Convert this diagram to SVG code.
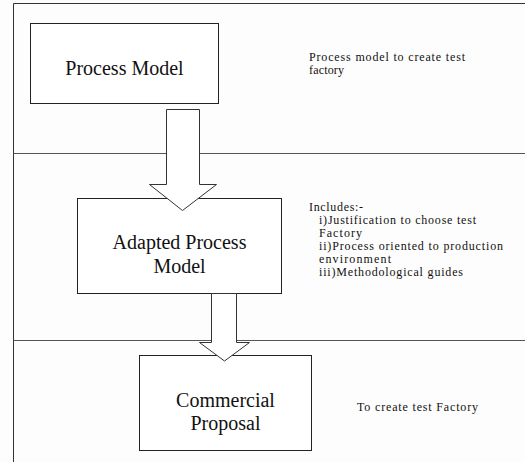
<svg xmlns="http://www.w3.org/2000/svg" width="525" height="462" viewBox="0 0 525 462">
<style>
.bg{fill:#fdfdfd}
.frame{stroke:#333;stroke-width:1;fill:none}
.sep{stroke:#555;stroke-width:1;fill:none}
.box{fill:#fff;stroke:#222;stroke-width:1}
.arrow{fill:#fff;stroke:#333;stroke-width:1;stroke-linejoin:miter}
text{font-family:'Liberation Serif',Tinos,'Times New Roman',Times,'DejaVu Serif',serif;fill:#111}
.title{font-size:20px;text-anchor:middle}
.note{font-size:12px}
</style>
<rect class="bg" x="0" y="0" width="525" height="462"/>
<g id="frame">
<path class="frame" d="M13.5,462 V3.5 H525"/>
<path class="sep" d="M13.5,153.5 H525"/>
<path class="sep" d="M13.5,340.5 H525"/>
</g>
<g id="node-process-model">
<rect class="box" x="30.5" y="23.5" width="188" height="80"/>
<text class="title" x="124.5" y="75">Process Model</text>
</g>
<g id="note-process-model">
<text class="note" x="309" y="61" textLength="156" lengthAdjust="spacing">Process model to create test</text>
<text class="note" x="309" y="74" textLength="35" lengthAdjust="spacing">factory</text>
</g>
<g id="node-adapted-process-model">
<rect class="box" x="77.5" y="198.5" width="204" height="95"/>
<text class="title" x="179.5" y="249">Adapted Process</text>
<text class="title" x="179.5" y="273">Model</text>
</g>
<g id="note-adapted-process-model">
<text class="note" x="309" y="211" textLength="54" lengthAdjust="spacing">Includes:-</text>
<text class="note" x="319" y="224" textLength="157" lengthAdjust="spacing">i)Justification to choose test</text>
<text class="note" x="319" y="237" textLength="43" lengthAdjust="spacing">Factory</text>
<text class="note" x="319" y="250" textLength="184" lengthAdjust="spacing">ii)Process oriented to production</text>
<text class="note" x="319" y="263" textLength="72" lengthAdjust="spacing">environment</text>
<text class="note" x="319" y="276" textLength="144" lengthAdjust="spacing">iii)Methodological guides</text>
</g>
<g id="node-commercial-proposal">
<rect class="box" x="139.5" y="355.5" width="172" height="95"/>
<text class="title" x="225.5" y="407">Commercial</text>
<text class="title" x="225.5" y="430">Proposal</text>
</g>
<g id="note-commercial-proposal">
<text class="note" x="357" y="411" textLength="121" lengthAdjust="spacing">To create test Factory</text>
</g>
<g id="connectors">
<polygon class="arrow" points="166.5,109.5 199.5,109.5 199.5,184.5 216.5,184.5 182.5,210.5 149.5,184.5 166.5,184.5"/>
<polygon class="arrow" points="211.5,293.5 236.5,293.5 236.5,342.5 249.5,342.5 224.5,361 199.5,342.5 211.5,342.5"/>
</g>
</svg>
